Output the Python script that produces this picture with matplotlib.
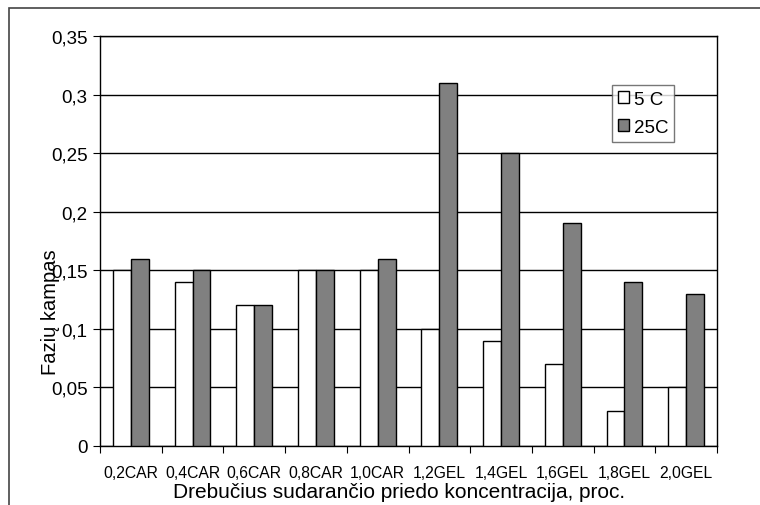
import matplotlib
matplotlib.use('Agg')
import matplotlib.pyplot as plt
from matplotlib.patches import Rectangle
import numpy as np

plt.rcParams['font.family'] = ['Liberation Sans', 'DejaVu Sans']

categories = ['0,2CAR', '0,4CAR', '0,6CAR', '0,8CAR', '1,0CAR',
              '1,2GEL', '1,4GEL', '1,6GEL', '1,8GEL', '2,0GEL']
vals_5c = [0.15, 0.14, 0.12, 0.15, 0.15, 0.10, 0.09, 0.07, 0.03, 0.05]
vals_25c = [0.16, 0.15, 0.12, 0.15, 0.16, 0.31, 0.25, 0.19, 0.14, 0.13]
yticks = [0, 0.05, 0.1, 0.15, 0.2, 0.25, 0.3, 0.35]
ytick_labels = ['0', '0,05', '0,1', '0,15', '0,2', '0,25', '0,3', '0,35']

W, H = 760, 506
fig = plt.figure(figsize=(W / 100, H / 100), dpi=100)
ax = fig.add_axes([100 / W, 1 - 447 / H, 617 / W, 410 / H])

x = np.arange(len(categories))
bw = 0.29
ax.bar(x - bw / 2, vals_5c, bw, color='white', edgecolor='black', linewidth=1, label='5 C', zorder=3)
ax.bar(x + bw / 2, vals_25c, bw, color='#808080', edgecolor='black', linewidth=1, label='25C', zorder=3)

ax.set_xlim(-0.5, len(categories) - 0.5)
ax.set_ylim(0, 0.35)
ax.set_yticks(yticks)
ax.set_yticklabels(ytick_labels, fontsize=13.5)
ax.yaxis.grid(True, color='black', linewidth=1, zorder=0)
ax.set_axisbelow(True)

ax.set_xticks(np.arange(len(categories) + 1) - 0.5)
ax.set_xticklabels([])
ax.set_xticks(x, minor=True)
ax.set_xticklabels(categories, minor=True, fontsize=11.3)
ax.tick_params(axis='x', which='minor', length=0, pad=14)
ax.tick_params(axis='x', which='major', length=5, direction='out')
ax.tick_params(axis='y', length=5, direction='out', pad=4)

for s in ax.spines.values():
    s.set_color('black')
    s.set_linewidth(1)

leg = ax.legend(loc='upper left', bbox_to_anchor=((612 - 100) / 617, (447 - 86) / 410),
                fontsize=13.5, frameon=True, fancybox=False, edgecolor='#555555',
                handlelength=0.6, handleheight=0.6, handletextpad=0.25,
                borderpad=0.3, labelspacing=0.6, borderaxespad=0)
leg.get_frame().set_linewidth(1)
leg.set_zorder(5)

fig.text(399 / W, 1 - 498 / H, 'Drebučius sudarančio priedo koncentracija, proc.',
         ha='center', va='baseline', fontsize=15)
fig.text(51 / W, 1 - 312 / H, 'Fazių kampas', ha='center', va='center',
         rotation=90, fontsize=14.5)

# outer chart border (cut off at right and bottom)
fig.patches.append(Rectangle((9 / W, -0.1), 1.2, 1 - 9 / H + 0.1,
                             transform=fig.transFigure, fill=False,
                             edgecolor='#444444', linewidth=1.2))

fig.savefig('out.png', dpi=100)
